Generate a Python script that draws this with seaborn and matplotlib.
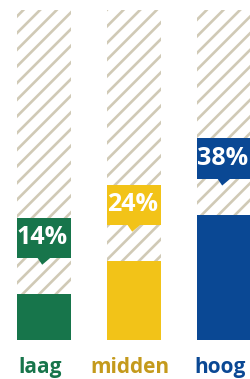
import matplotlib
matplotlib.use("Agg")
import matplotlib.pyplot as plt
from matplotlib.patches import Rectangle, Polygon
import seaborn as sns

# data
categorieen = ["laag", "midden", "hoog"]
percentages = [14, 24, 38]
volledig = [100, 100, 100]
kleuren = ["#17754B", "#F2C318", "#0A4894"]
label_kleuren = ["#17754B", "#C49A1C", "#0A4894"]

HATCH = "#D0CAB6"

sns.set_theme(style="white")
plt.rcParams["font.family"] = ["Open Sans", "DejaVu Sans"]
plt.rcParams["hatch.linewidth"] = 1.9

fig = plt.figure(figsize=(2.5, 3.79), dpi=100)
ax = fig.add_axes([0, 0, 1, 1])

# achtergrond (gearceerd, 100%)
sns.barplot(x=categorieen, y=volledig, color="white", saturation=1, width=0.6,
            hatch="//", edgecolor=HATCH, linewidth=0, ax=ax)
# werkelijke waarden
sns.barplot(x=categorieen, y=percentages, hue=categorieen, palette=kleuren,
            saturation=1, width=0.6, legend=False, linewidth=0, ax=ax)

# labels met pijltje
for i, (v, c) in enumerate(zip(percentages, kleuren)):
    ax.add_patch(Rectangle((i - 0.3, v + 10.9), 0.6, 12.2, facecolor=c,
                           edgecolor="none", zorder=5))
    ax.add_patch(Polygon([(i - 0.075, v + 11.0), (i + 0.075, v + 11.0), (i - 0.02, v + 8.8)],
                         closed=True, facecolor=c, edgecolor="none", zorder=5))
    ax.text(i - 0.02, v + 17.0, f"{v}%", ha="center", va="center", color="white",
            fontsize=18, fontweight="bold", zorder=6)

for i, (lab, c) in enumerate(zip(categorieen, label_kleuren)):
    ax.text(i - 0.04, -9.9, lab, ha="center", va="baseline", color=c,
            fontsize=15, fontweight="bold")

ax.set_xlim(-44 / 90, (250 - 44) / 90)
ax.set_ylim(-39 / 3.3, (379 - 39) / 3.3)
ax.axis("off")

fig.savefig("out.png", dpi=100, facecolor="white")
